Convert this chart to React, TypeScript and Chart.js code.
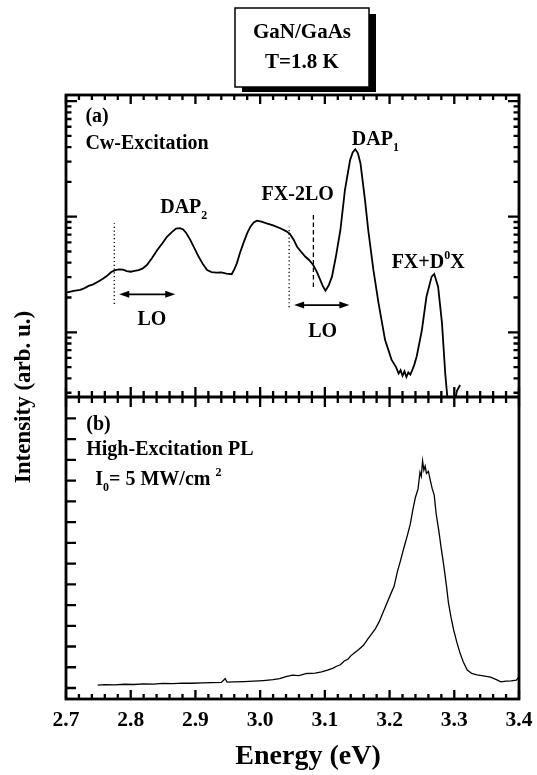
import React, { useEffect, useRef } from 'react';
import { Chart, registerables } from 'chart.js';

Chart.register(...registerables);

// (a) cw-excitation spectrum, log intensity
const energyA = [
  2.700, 2.712, 2.722, 2.728, 2.735, 2.742, 2.750, 2.757, 2.764, 2.770,
  2.776, 2.782, 2.788, 2.794, 2.800, 2.806, 2.812, 2.818, 2.825, 2.833,
  2.841, 2.849, 2.856, 2.864, 2.870, 2.876, 2.881, 2.886, 2.892, 2.898,
  2.905, 2.912, 2.918, 2.925, 2.933, 2.940, 2.948, 2.956, 2.960, 2.964,
  2.969, 2.975, 2.980, 2.985, 2.990, 2.995, 3.002, 3.010, 3.020, 3.031,
  3.040, 3.046, 3.052, 3.057, 3.063, 3.070, 3.076, 3.082, 3.088, 3.093,
  3.097, 3.101, 3.106, 3.111, 3.117, 3.124, 3.131, 3.139, 3.143, 3.147,
  3.151, 3.155, 3.162, 3.167, 3.175, 3.183, 3.193, 3.203, 3.210, 3.214,
  3.217, 3.220, 3.223, 3.226, 3.229, 3.232, 3.235, 3.238, 3.242, 3.250,
  3.257, 3.265, 3.269, 3.275, 3.281, 3.286, 3.289, 3.293, 3.300, 3.304,
  3.309,
];
const intensityA = [
  2.20, 2.28, 2.33, 2.40, 2.52, 2.60, 2.75, 2.90, 3.10, 3.32,
  3.45, 3.50, 3.48, 3.38, 3.34, 3.40, 3.45, 3.55, 3.82, 4.40,
  5.15, 5.90, 6.70, 7.40, 7.90, 7.95, 7.75, 7.20, 6.30, 5.40,
  4.50, 3.85, 3.46, 3.32, 3.28, 3.30, 3.22, 3.18, 3.50, 3.95,
  4.90, 6.08, 7.20, 8.20, 8.90, 9.24, 9.05, 8.77, 8.40, 7.94,
  7.50, 7.10, 6.30, 5.50, 5.00, 4.50, 4.20, 3.82, 3.30, 2.83,
  2.50, 2.29, 2.55, 3.03, 4.50, 7.67, 17.0, 30.9, 36.0, 38.3,
  35.5, 29.0, 14.0, 7.70, 3.46, 1.78, 0.86, 0.58, 0.50, 0.44,
  0.47, 0.42, 0.46, 0.41, 0.45, 0.43, 0.47, 0.52, 0.62, 1.05,
  2.03, 3.03, 3.20, 2.48, 1.20, 0.44, 0.287, 0.22, 0.24, 0.31,
  0.35,
];

// (b) high-excitation spectrum, linear intensity
const energyB = [
  2.749, 2.760, 2.775, 2.790, 2.805, 2.820, 2.835, 2.850, 2.865, 2.880,
  2.895, 2.910, 2.925, 2.940, 2.946, 2.949, 2.960, 2.975, 2.990, 3.005,
  3.020, 3.030, 3.040, 3.050, 3.060, 3.072, 3.085, 3.095, 3.104, 3.112,
  3.118, 3.124, 3.130, 3.136, 3.140, 3.146, 3.152, 3.160, 3.166, 3.172,
  3.178, 3.184, 3.190, 3.196, 3.202, 3.207, 3.212, 3.217, 3.222, 3.227,
  3.232, 3.236, 3.240, 3.244, 3.247, 3.249, 3.251, 3.253, 3.255, 3.257,
  3.260, 3.263, 3.266, 3.269, 3.272, 3.276, 3.280, 3.284, 3.288, 3.291,
  3.295, 3.299, 3.304, 3.309, 3.314, 3.320, 3.327, 3.335, 3.345, 3.356,
  3.365, 3.372, 3.380, 3.388, 3.396, 3.400,
];
const intensityB = [
  0.14, 0.16, 0.15, 0.18, 0.17, 0.20, 0.19, 0.22, 0.21, 0.24,
  0.23, 0.25, 0.26, 0.27, 0.45, 0.28, 0.30, 0.31, 0.33, 0.36,
  0.40, 0.45, 0.55, 0.62, 0.60, 0.70, 0.72, 0.78, 0.86, 0.95,
  1.05, 1.12, 1.30, 1.40, 1.55, 1.70, 1.85, 2.07, 2.35, 2.60,
  2.85, 3.20, 3.65, 4.10, 4.55, 4.90, 5.60, 6.15, 6.75, 7.30,
  7.90, 8.60, 9.20, 9.60, 10.40, 10.20, 10.95, 10.50, 10.70, 10.35,
  10.45, 10.00, 9.60, 9.30, 8.40, 7.60, 6.70, 5.85, 4.90, 4.10,
  3.40, 2.80, 2.20, 1.67, 1.25, 0.87, 0.70, 0.63, 0.58, 0.52,
  0.40, 0.30, 0.33, 0.34, 0.38, 0.55,
];

const xTickLabels = ['2.7', '2.8', '2.9', '3.0', '3.1', '3.2', '3.3', '3.4'];

const SERIF = '"Liberation Serif", "Times New Roman", serif';

type Part = { t: string; sub?: boolean; sup?: boolean };

function drawRich(ctx: CanvasRenderingContext2D, parts: Part[], x: number, y: number, size: number, align = 'left') {
  const small = Math.round(size * 0.6);
  const widths = parts.map((p) => {
    ctx.font = `bold ${p.sub || p.sup ? small : size}px ${SERIF}`;
    return ctx.measureText(p.t).width;
  });
  const total = widths.reduce((a, b) => a + b, 0);
  let cx = align === 'center' ? x - total / 2 : x;
  ctx.textAlign = 'left';
  ctx.textBaseline = 'middle';
  parts.forEach((p, i) => {
    ctx.font = `bold ${p.sub || p.sup ? small : size}px ${SERIF}`;
    const dy = p.sub ? size * 0.38 : p.sup ? -size * 0.35 : 0;
    ctx.fillText(p.t, cx, y + dy);
    cx += widths[i];
  });
}

function arrowHead(ctx: CanvasRenderingContext2D, x: number, y: number, dir: number) {
  ctx.beginPath();
  ctx.moveTo(x, y);
  ctx.lineTo(x - dir * 10, y - 3.5);
  ctx.lineTo(x - dir * 10, y + 3.5);
  ctx.closePath();
  ctx.fill();
}

const framePlugin = {
  id: 'frame',
  // each spectrum is clipped to its own panel
  beforeDatasetDraw(chart: any, args: any) {
    const meta = chart.getDatasetMeta(args.index);
    const ys = chart.scales[meta.yAxisID];
    const { left, right } = chart.chartArea;
    const ctx = chart.ctx;
    ctx.save();
    ctx.beginPath();
    ctx.rect(left, ys.top, right - left, ys.bottom - ys.top);
    ctx.clip();
  },
  afterDatasetDraw(chart: any) {
    chart.ctx.restore();
  },
  afterDraw(chart: any) {
    const ctx: CanvasRenderingContext2D = chart.ctx;
    const { left, right, top, bottom } = chart.chartArea;
    const x = chart.scales.x;
    const yA = chart.scales.yA;
    const yB = chart.scales.yB;
    const mid = yA.bottom;
    const pA = (e: number, v: number) => [x.getPixelForValue(e), yA.getPixelForValue(v)];
    const pB = (e: number, v: number) => [x.getPixelForValue(e), yB.getPixelForValue(v)];

    ctx.save();
    ctx.strokeStyle = '#000';
    ctx.fillStyle = '#000';

    // label box with drop shadow
    ctx.fillRect(242, 14, 134, 78);
    ctx.fillStyle = '#fff';
    ctx.fillRect(235, 8, 134, 79);
    ctx.fillStyle = '#000';
    ctx.lineWidth = 1.5;
    ctx.strokeRect(235, 8, 134, 79);
    ctx.font = `bold 21px ${SERIF}`;
    ctx.textAlign = 'center';
    ctx.textBaseline = 'middle';
    ctx.fillText('GaN/GaAs', 302, 33);
    ctx.fillText('T=1.8 K', 302, 63);

    // tick marks, all pointing inward
    ctx.lineWidth = 2.3;
    ctx.beginPath();
    for (let i = 0; i <= 35; i++) {
      const px = x.getPixelForValue(2.7 + i * 0.02);
      const major = i % 5 === 0;
      const len = major ? 9 : 5;
      ctx.moveTo(px, bottom);
      ctx.lineTo(px, bottom - len);
      ctx.moveTo(px, top);
      ctx.lineTo(px, top + len);
      const half = major ? 10 : 6;
      ctx.moveTo(px, mid - half);
      ctx.lineTo(px, mid + half);
    }
    for (let d = -1; d <= 2; d++) {
      for (let m = 1; m <= 9; m++) {
        const v = m * Math.pow(10, d);
        if (v < yA.min || v > yA.max) continue;
        const py = yA.getPixelForValue(v);
        const len = m === 1 ? 11 : 5.5;
        ctx.moveTo(left, py);
        ctx.lineTo(left + len, py);
        ctx.moveTo(right, py);
        ctx.lineTo(right - len, py);
      }
    }
    for (let i = 0; i <= 13; i++) {
      const py = yB.getPixelForValue(i);
      ctx.moveTo(left, py);
      ctx.lineTo(left + 10, py);
    }
    ctx.stroke();

    // frame and divider
    ctx.lineWidth = 2.8;
    ctx.strokeRect(left, top, right - left, bottom - top);
    ctx.beginPath();
    ctx.moveTo(left, mid);
    ctx.lineTo(right, mid);
    ctx.stroke();

    // x tick labels and axis titles
    ctx.font = `bold 21.5px ${SERIF}`;
    ctx.textAlign = 'center';
    ctx.textBaseline = 'middle';
    xTickLabels.forEach((t) => {
      ctx.fillText(t, x.getPixelForValue(parseFloat(t)), bottom + 21);
    });
    ctx.font = `bold 28px ${SERIF}`;
    ctx.fillText('Energy (eV)', 308, 757);
    ctx.save();
    ctx.translate(24, 397);
    ctx.rotate(-Math.PI / 2);
    ctx.font = `bold 23px ${SERIF}`;
    ctx.fillText('Intensity (arb. u.)', 0, 0);
    ctx.restore();

    // panel (a) markers
    ctx.lineWidth = 1.3;
    ctx.setLineDash([1.2, 2.6]);
    [[2.7746, 1.76, 8.77], [3.0448, 1.65, 8.2]].forEach(([e, v0, v1]) => {
      const [x0, y0] = pA(e, v0);
      const [, y1] = pA(e, v1);
      ctx.beginPath();
      ctx.moveTo(x0, y0);
      ctx.lineTo(x0, y1);
      ctx.stroke();
    });
    ctx.setLineDash([4.5, 3]);
    {
      const [x0, y0] = pA(3.0823, 2.46);
      const [, y1] = pA(3.0823, 10.8);
      ctx.beginPath();
      ctx.moveTo(x0, y0);
      ctx.lineTo(x0, y1);
      ctx.stroke();
    }
    ctx.setLineDash([]);
    ctx.lineWidth = 1.7;
    [[2.7823, 2.8688, 2.13], [3.0525, 3.1379, 1.72]].forEach(([e0, e1, v]) => {
      const [x0, y0] = pA(e0, v);
      const [x1] = pA(e1, v);
      ctx.beginPath();
      ctx.moveTo(x0 + 4, y0);
      ctx.lineTo(x1 - 4, y0);
      ctx.stroke();
      arrowHead(ctx, x0, y0, -1);
      arrowHead(ctx, x1, y0, 1);
    });

    const lab = 20;
    let [tx, ty] = pA(2.730, 73.4);
    drawRich(ctx, [{ t: '(a)' }], tx, ty, lab);
    [tx, ty] = pA(2.730, 43.1);
    drawRich(ctx, [{ t: 'Cw-Excitation' }], tx, ty, lab);
    [tx, ty] = pA(2.8456, 11.84);
    drawRich(ctx, [{ t: 'DAP' }, { t: '2', sub: true }], tx, ty, lab);
    [tx, ty] = pA(3.058, 15.4);
    drawRich(ctx, [{ t: 'FX-2LO' }], tx, ty, lab, 'center');
    [tx, ty] = pA(3.1416, 46.0);
    drawRich(ctx, [{ t: 'DAP' }, { t: '1', sub: true }], tx, ty, lab);
    [tx, ty] = pA(3.2032, 3.95);
    drawRich(ctx, [{ t: 'FX+D' }, { t: '0', sup: true }, { t: 'X' }], tx, ty, lab);
    [tx, ty] = pA(2.8328, 1.278);
    drawRich(ctx, [{ t: 'LO' }], tx, ty, lab, 'center');
    [tx, ty] = pA(3.0966, 1.012);
    drawRich(ctx, [{ t: 'LO' }], tx, ty, lab, 'center');

    // panel (b) labels
    [tx, ty] = pB(2.7313, 12.68);
    drawRich(ctx, [{ t: '(b)' }], tx, ty, lab);
    [tx, ty] = pB(2.7313, 11.47);
    drawRich(ctx, [{ t: 'High-Excitation PL' }], tx, ty, lab);
    [tx, ty] = pB(2.7453, 10.03);
    drawRich(ctx, [{ t: 'I' }, { t: '0', sub: true }, { t: '= 5 MW/cm ' }, { t: '2', sup: true }], tx, ty, lab);

    ctx.restore();
  },
};

const hidden = {
  display: true,
  ticks: { display: false },
  grid: { display: false, drawTicks: false },
  border: { display: false },
};

const App: React.FC = () => {
  const chartRef = useRef<HTMLCanvasElement | null>(null);

  useEffect(() => {
    if (!chartRef.current) return;
    const ctx = chartRef.current.getContext('2d');
    if (!ctx) return;

    const myChart = new Chart(ctx, {
      type: 'line',
      data: {
        datasets: [
          {
            label: 'Cw-Excitation',
            data: energyA.map((e, i) => ({ x: e, y: intensityA[i] })),
            yAxisID: 'yA',
            borderColor: '#000',
            borderWidth: 1.8,
            pointRadius: 0,
            tension: 0,
          },
          {
            label: 'High-Excitation PL',
            data: energyB.map((e, i) => ({ x: e, y: intensityB[i] })),
            yAxisID: 'yB',
            borderColor: '#000',
            borderWidth: 1.3,
            pointRadius: 0,
            tension: 0,
          },
        ],
      },
      options: {
        responsive: false,
        animation: false,
        events: [],
        layout: { padding: { left: 66, right: 18, top: 95, bottom: 76 } },
        plugins: { legend: { display: false }, tooltip: { enabled: false } },
        scales: {
          x: { ...hidden, type: 'linear', min: 2.7, max: 3.4 },
          // two panels stacked on one energy axis: yA on top, yB below
          yB: { ...hidden, type: 'linear', position: 'left', stack: 'panels', stackWeight: 1, weight: 0, min: -0.53, max: 14.03 },
          yA: { ...hidden, type: 'logarithmic', position: 'left', stack: 'panels', stackWeight: 1, weight: 1, min: 0.2756, max: 112.9 },
        },
      } as any,
      plugins: [framePlugin],
    });

    return () => {
      myChart.destroy();
    };
  }, []);

  return (
    <div style={{ position: 'absolute', left: 0, top: 0, width: 537, height: 775, background: '#fff' }}>
      <canvas ref={chartRef} width={537} height={775} style={{ width: 537, height: 775 }} />
    </div>
  );
};

export default App;
